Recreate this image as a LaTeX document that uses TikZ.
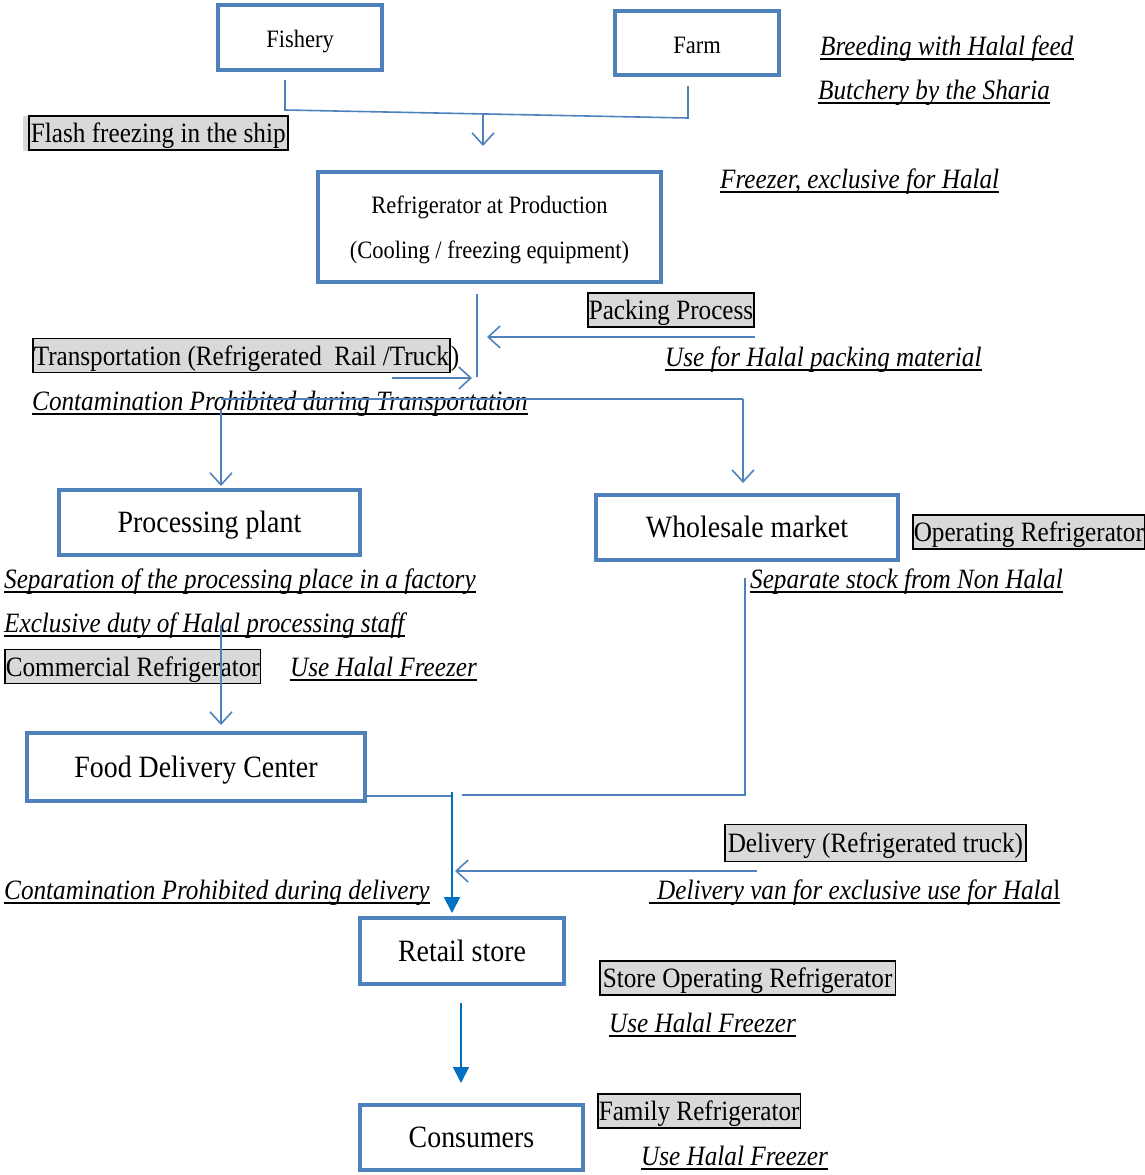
\documentclass[tikz,border=0pt]{standalone}
\usepackage{fontspec}
\setmainfont{Liberation Serif}[FakeStretch=0.90]
\usetikzlibrary{arrows.meta}
\definecolor{boxblue}{HTML}{4F81BD}
\definecolor{darkblue}{HTML}{0070C0}
\definecolor{lgray}{HTML}{D9D9D9}
\newcommand\labfont{\fontsize{28}{32}\selectfont}
\newcommand\smallbox{\fontsize{25}{29}\selectfont}
\newcommand\bigbox{\fontsize{31}{35}\selectfont}
\tikzset{
  flowbox/.style={draw=boxblue, line width=4pt, fill=white, inner sep=0pt, font=\bigbox, text height=20pt, text depth=0pt},
  glabel/.style={draw=black, line width=1.5pt, fill=lgray, inner xsep=3pt, inner ysep=0pt, minimum height=34pt, anchor=west, font=\labfont, text height=19pt, text depth=0pt},
  ital/.style={inner sep=0pt, anchor=base west, font=\labfont\itshape},
  uline/.style={draw=black, line width=1.8pt},
  conn/.style={draw=boxblue, line width=1.6pt},
  openarr/.style={conn, -{Straight Barb[length=12pt,width=22pt,line width=1.6pt]}},
  fillarr/.style={draw=darkblue, line width=1.8pt, -{Triangle[length=16pt,width=16pt]}},
}
\newcommand\ulab[4]{%
  \node[ital] (#1) at (#2,#3) {#4};
  \draw[uline] ([yshift=-4pt]#1.base west) -- ([yshift=-4pt]#1.base east);}
\begin{document}
\begin{tikzpicture}[x=1pt,y=-1pt]
\useasboundingbox (0,0) rectangle (1144,1175);
% boxes
\node[flowbox, minimum width=164pt, minimum height=65pt, font=\smallbox] (fish) at (300,37.5) {Fishery};
\node[flowbox, minimum width=164pt, minimum height=64pt, font=\smallbox] (farm) at (697,43) {Farm};
\node[flowbox, minimum width=343pt, minimum height=110pt, align=center, font=\fontsize{25}{45}\selectfont, text height=62pt, text depth=0pt] (refr) at (489.5,227) {Refrigerator at Production\\(Cooling / freezing equipment)};
\node[flowbox, minimum width=301pt, minimum height=65pt] (proc) at (209.5,522.5) {Processing plant};
\node[flowbox, minimum width=302pt, minimum height=65pt] (whole) at (747,527.5) {Wholesale market};
\node[flowbox, minimum width=338pt, minimum height=68pt] (fdc) at (196,767) {Food Delivery Center};
\node[flowbox, minimum width=204pt, minimum height=66pt] (retail) at (462,951) {Retail store};
\node[flowbox, minimum width=223pt, minimum height=65pt] (cons) at (471.5,1137.5) {Consumers};
% gray labels
\fill[lgray] (23,116) rectangle (30,151);
\node[glabel, inner xsep=2pt, minimum width=259pt] (flash) at (28,133) {Flash freezing in the ship};
\node[glabel, inner xsep=1pt] (pack) at (587,310) {Packing Process};
\node[glabel, inner xsep=1pt] (trans) at (32,355.5) {Transportation (Refrigerated~ Rail /Truck};
\node[inner sep=0pt, anchor=base west, font=\labfont] (transp) at (trans.base east) {)};
\node[glabel, inner xsep=1pt] (oper) at (912,532) {Operating Refrigerator};
\node[glabel, inner xsep=1pt] (comm) at (4,666.5) {Commercial Refrigerator};
\node[glabel, minimum height=37pt, inner xsep=3pt] (deliv) at (724,843) {Delivery (Refrigerated truck)};
\node[glabel, inner xsep=3pt] (store) at (599,978) {Store Operating Refrigerator};
\node[glabel, inner xsep=1pt] (family) at (597,1111) {Family Refrigerator};
% italic underlined notes
\ulab{breed}{820}{55}{Breeding with Halal feed}
\ulab{butch}{818}{99}{Butchery by the Sharia}
\ulab{freez}{720}{188}{Freezer, exclusive for Halal}
\ulab{usepack}{665}{366}{Use for Halal packing material}
\ulab{contt}{32}{410}{Contamination Prohibited during Transportation}
\ulab{sepa}{4}{588}{Separation of the processing place in a factory}
\ulab{sepst}{750}{588}{Separate stock from Non Halal}
\ulab{excl}{4}{632}{Exclusive duty of Halal processing staff}
\ulab{uhf1}{290}{676}{Use Halal Freezer}
\ulab{contd}{4}{899}{Contamination Prohibited during delivery}
\node[ital] (van) at (657,899) {Delivery van for exclusive use for Hala\upshape l};
\draw[uline] ([yshift=-4pt,xshift=-8pt]van.base west) -- ([yshift=-4pt]van.base east);
\ulab{uhf2}{609}{1032}{Use Halal Freezer}
\ulab{uhf3}{641}{1165}{Use Halal Freezer}
% connectors
\coordinate (j1) at (285,110);
\coordinate (j2) at (688,118);
\draw[conn] ([yshift=-8pt]fish.south -| j1) -- (j1) -- (j2) -- ([yshift=-9pt]farm.south -| j2);
\coordinate (a1s) at (483,113);
\draw[openarr] (a1s) -- ([yshift=24pt]refr.north -| a1s);
\coordinate (v1s) at (477,294);
\coordinate (v1e) at (477,377);
\draw[conn] (v1s) -- (v1e);
\draw[openarr] (pack.east |- 0,337) -- (487,337);
\coordinate (tr1) at (392,378);
\draw[openarr] (tr1) -- (472,378);
\coordinate (h1) at (221,399);
\coordinate (h2) at (743,399);
\draw[conn] (h1) -- (h2);
\draw[openarr] (221,410) -- ([yshift=2pt]proc.north -| h1);
\draw[openarr] (h2) -- ([yshift=10pt]whole.north -| h2);
\draw[openarr] (221,625) -- ([yshift=6pt]fdc.north -| h1);
\coordinate (w1) at (745,578);
\coordinate (w2) at (745,795);
\coordinate (w3) at (462,795);
\draw[conn] (w1) -- (w2) -- (w3);
\coordinate (f1) at (452,796);
\draw[conn] ([xshift=-2pt]fdc.east |- f1) -- (f1);
\coordinate (f0) at (452,792);
\draw[fillarr] (f0) -- ([yshift=3pt]retail.north -| f0);
\draw[openarr] (757,871) -- (455,871);
\coordinate (r1) at (461,1003);
\draw[fillarr] (r1) -- ([yshift=20pt]cons.north -| r1);
\end{tikzpicture}
\end{document}
